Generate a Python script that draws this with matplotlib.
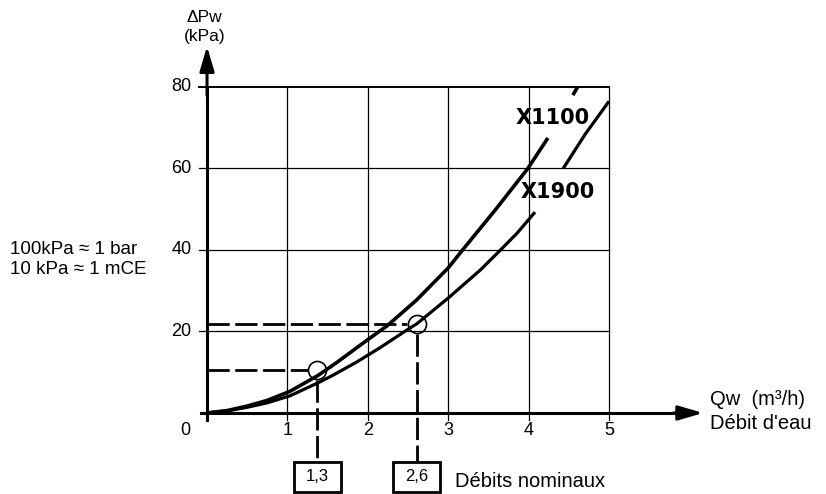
import numpy as np
import matplotlib.pyplot as plt
from matplotlib.patches import Rectangle

plt.rcParams['font.family'] = ['Liberation Sans', 'DejaVu Sans']

# --- data ---
# pressure drop curves (np.nan = break where the label sits)
q_x1100 = [0, 0.25, 0.5, 0.75, 1.03, 1.38, 1.6, 2.0, 2.24, 2.6, 3.0, 3.17, 3.58, 3.99, 4.14, 4.24,
           np.nan, 4.55, 4.61]
dp_x1100 = [0, 0.6, 1.7, 3.1, 5.3, 9.2, 12.2, 18.0, 21.4, 27.6, 35.6, 39.8, 49.7, 60.0, 64.5, 67.5,
            np.nan, 78.0, 80.0]
q_x1900 = [0, 0.25, 0.5, 0.75, 1.03, 1.38, 1.57, 1.87, 2.15, 2.52, 2.61, 3.0, 3.4, 3.64, 3.86, 4.08,
           np.nan, 4.43, 4.7, 5.0]
dp_x1900 = [0, 0.5, 1.4, 2.5, 4.2, 7.4, 9.3, 12.6, 16.0, 20.8, 21.9, 28.2, 35.1, 39.8, 44.2, 49.3,
            np.nan, 60.0, 68.3, 76.5]

# nominal flows
nominal_q = [1.37, 2.61]
nominal_dp = [10.5, 21.8]
nominal_labels = ["1,3", "2,6"]

x_ticks = [1, 2, 3, 4, 5]
y_ticks = [20, 40, 60, 80]

fig = plt.figure(figsize=(8.26, 4.94), dpi=100)
ax = fig.add_axes([0, 0, 1, 1])
ax.set_xlim(-2.575, 7.699)
ax.set_ylim(-19.88, 101.35)
ax.axis("off")

# grid
for x in x_ticks:
    ax.plot([x, x], [-1.7, 80], color="black", lw=0.9)
for y in y_ticks:
    ax.plot([-0.1, 5], [y, y], color="black", lw=1.4 if y == 80 else 0.9)

# axes with arrows
ax.plot([0, 0], [-1.7, 80], color="black", lw=2.2)
ax.plot([-0.07, 6.0], [0, 0], color="black", lw=2.2)
arrow = dict(arrowstyle="-|>,head_length=0.75,head_width=0.22",
             lw=2.2, color="black", mutation_scale=20, shrinkA=0, shrinkB=0)
ax.annotate("", xy=(0, 90.0), xytext=(0, 78), arrowprops=arrow)
ax.annotate("", xy=(6.17, 0), xytext=(5.8, 0), arrowprops=arrow)

# curves
ax.plot(q_x1100, dp_x1100, color="black", lw=2.6, solid_capstyle="butt")
ax.plot(q_x1900, dp_x1900, color="black", lw=2.3, solid_capstyle="butt")

# nominal points: dashed guides, circles, boxes
box_w, box_top, box_bot = 0.585, -12.0, -19.4
for q, dp, lab in zip(nominal_q, nominal_dp, nominal_labels):
    ax.plot([0, q - 0.12], [dp, dp], color="black", lw=2.0, dashes=(8, 2))
    ax.plot([q, q], [dp - 2.3, box_top], color="black", lw=2.0, dashes=(8, 2))
    ax.plot([q], [dp], marker="o", ms=13, mfc="none", mec="black", mew=1.2)
    ax.add_patch(Rectangle((q - box_w / 2, box_bot), box_w, box_top - box_bot,
                           fill=False, ec="black", lw=2.0))
    ax.text(q, (box_top + box_bot) / 2, lab, ha="center", va="center", fontsize=12)

# tick labels
for x in x_ticks:
    ax.text(x, -4.4, str(x), ha="center", va="center", fontsize=13)
for y in y_ticks:
    ax.text(-0.19, y, str(y), ha="right", va="center", fontsize=13)
ax.text(-0.27, -4.4, "0", ha="center", va="center", fontsize=13)

# axis titles and notes
ax.text(-0.03, 97.0, "ΔPw", ha="center", va="center", fontsize=12.5)
ax.text(-0.03, 92.5, "(kPa)", ha="center", va="center", fontsize=12.5)
ax.text(-2.45, 40.2, "100kPa ≈ 1 bar", ha="left", va="center", fontsize=13.5)
ax.text(-2.45, 35.1, "10 kPa ≈ 1 mCE", ha="left", va="center", fontsize=13.5)
ax.text(6.26, 3.2, "Qw  (m³/h)", ha="left", va="center", fontsize=14.5)
ax.text(6.26, -2.7, "Débit d'eau", ha="left", va="center", fontsize=14.5)
ax.text(3.08, -16.9, "Débits nominaux", ha="left", va="center", fontsize=14.5)

# curve labels
ax.text(4.303, 72.4, "X1100", ha="center", va="center", fontsize=15,
        fontweight="bold", family=["DejaVu Sans"])
ax.text(4.366, 54.2, "X1900", ha="center", va="center", fontsize=15,
        fontweight="bold", family=["DejaVu Sans"])

plt.savefig("out.png", dpi=100)
plt.close()
